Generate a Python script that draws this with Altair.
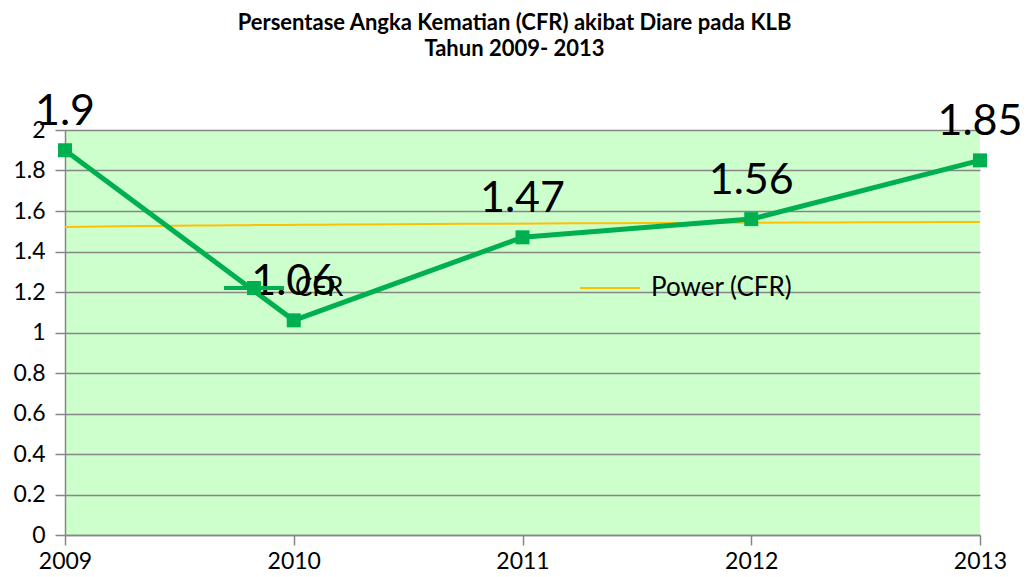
import altair as alt
import pandas as pd

years = [2009, 2010, 2011, 2012, 2013]
cfr = [1.9, 1.06, 1.47, 1.56, 1.85]
series_names = ["CFR", "Power (CFR)"]
series_colors = ["#00b050", "#ffc000"]
y_ticks = [0, 0.2, 0.4, 0.6, 0.8, 1.0, 1.2, 1.4, 1.6, 1.8, 2.0]

df = pd.DataFrame({"year": years, "cfr": cfr})
legend_df = pd.DataFrame({"series": series_names})

FONT = "Lato"
GREEN = series_colors[0]
GOLD = series_colors[1]

x_enc = alt.X("year:Q", scale=alt.Scale(domain=[2009, 2013], nice=False),
              axis=alt.Axis(values=years, format="d", title=None, grid=False,
                            labelFontSize=23, labelFont=FONT, labelColor="#000000",
                            domainColor="#868686", tickColor="#868686",
                            domainWidth=1.5, tickWidth=1.5, tickSize=10, labelPadding=5,
                            labelFlush=False))
y_enc = alt.Y("cfr:Q", scale=alt.Scale(domain=[0, 2], nice=False),
              axis=alt.Axis(values=y_ticks, format="~g", title=None,
                            labelFontSize=23, labelFont=FONT, labelColor="#000000",
                            gridColor="#868686", gridWidth=1.5,
                            domainColor="#868686", tickColor="#868686",
                            domainWidth=1.5, tickWidth=1.5, tickSize=10, labelPadding=10))

# legend glyphs drawn as stroked paths (unit coords, scaled by symbol size)
cfr_path = ("M-3,-0.1H3M-3,0H3M-3,0.1H3"
            "M-0.7,-0.6H0.7M-0.7,-0.4H0.7M-0.7,-0.2H0.7M-0.7,0.2H0.7M-0.7,0.4H0.7M-0.7,0.6H0.7")
pow_path = "M-3,0H3"

base = alt.Chart(df)

line = base.mark_line(strokeWidth=5, color=GREEN).encode(x=x_enc, y=y_enc)

trend = base.transform_calculate(idx="datum.year - 2008").transform_regression(
    "idx", "cfr", method="pow", extent=[1, 5], as_=["idx", "trend"]
).transform_calculate(
    year="datum.idx + 2008"
).mark_line(strokeWidth=2, color=GOLD).encode(x="year:Q", y="trend:Q")

points = base.mark_square(size=196, opacity=1, color=GREEN).encode(x="year:Q", y="cfr:Q")

labels = base.mark_text(fontSize=43, font=FONT, dy=-25, baseline="alphabetic",
                        align="center", color="#000000").encode(
    x="year:Q", y="cfr:Q", text=alt.Text("cfr:Q", format="~g"))

legend = alt.Legend(
    title=None, orient="none", legendX=176, legendY=145, direction="horizontal",
    labelFontSize=26, labelFont=FONT, labelColor="#000000", labelOffset=28,
    columnPadding=232, symbolSize=400, padding=0, symbolStrokeWidth=2,
    symbolOpacity=1,
)

legend_layer = alt.Chart(legend_df).transform_filter("false").mark_point(
    filled=False, strokeWidth=2, opacity=1, size=400
).encode(
    x="year:Q", y="cfr:Q",
    color=alt.Color("series:N", scale=alt.Scale(domain=series_names, range=series_colors),
                    legend=legend),
    shape=alt.Shape("series:N", scale=alt.Scale(domain=series_names, range=[cfr_path, pow_path]),
                    legend=legend),
)

chart = alt.layer(trend, line, points, labels, legend_layer).properties(
    width=915, height=405,
    autosize=alt.AutoSizeParams(type="none"),
    padding={"left": 57, "top": 122, "right": 44, "bottom": 40},
    title=alt.Title(["Persentase Angka Kematian (CFR) akibat Diare pada KLB", "Tahun 2009- 2013"],
                    font=FONT, fontSize=22, fontWeight="bold", color="#000000",
                    anchor="middle", offset=30, lineHeight=26, dx=-8),
).configure_view(fill="#ccffcc", stroke=None)

chart.save("out.html", embed_options={"renderer": "svg", "actions": False})
